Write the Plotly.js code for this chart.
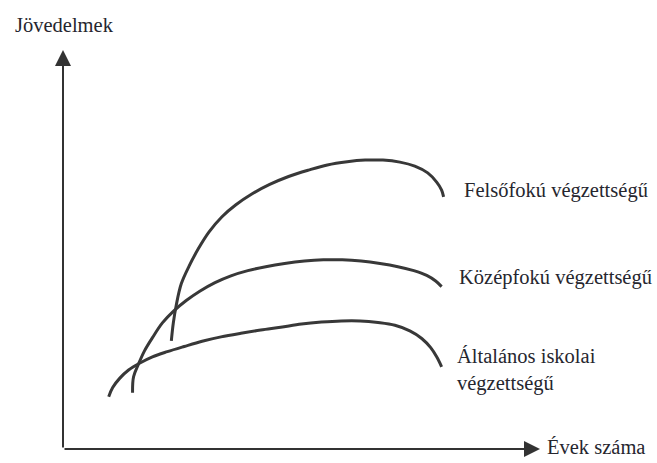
<!DOCTYPE html>
<html>
<head>
<meta charset="utf-8">
<script src="https://cdn.plot.ly/plotly-3.0.1.min.js"></script>
<style>
  html, body { margin: 0; padding: 0; background: #fff; }
  #chart { width: 657px; height: 463px; }
</style>
</head>
<body>
<div id="chart"></div>
<script>
// Életkereset-görbék végzettség szerint (kézzel)
// x: évek száma, y: jövedelem (tetszőleges egység)
const felsoX = [10.9, 11.1, 11.4, 11.9, 12.7, 13.6, 14.7, 16.0, 17.4, 19.0, 20.8, 22.7, 24.7, 26.6, 28.6, 30.4, 32.2, 33.9, 35.4, 36.7, 37.6, 38.1, 38.3];
const felsoY = [27.1, 31.6, 36.1, 41.4, 45.9, 50.1, 54.4, 58.2, 61.2, 63.9, 66.3, 68.3, 69.9, 71.2, 72.0, 72.4, 72.4, 71.9, 70.9, 69.2, 66.9, 64.9, 63.2];

const kozepX = [7.0, 7.1, 7.6, 8.2, 9.0, 10.0, 11.1, 12.4, 13.8, 15.3, 16.9, 18.6, 20.4, 22.3, 24.3, 26.2, 28.1, 30.0, 31.9, 33.7, 35.3, 36.6, 37.5, 38.1];
const kozepY = [14.1, 18.1, 21.3, 24.6, 27.9, 31.6, 34.5, 37.2, 39.6, 41.7, 43.4, 44.7, 45.7, 46.5, 47.1, 47.4, 47.4, 47.1, 46.5, 45.7, 44.7, 43.5, 42.1, 40.7];

const altalX = [4.6, 5.0, 5.7, 6.6, 7.7, 9.0, 10.5, 12.2, 14.0, 15.9, 17.9, 19.9, 21.9, 24.0, 26.0, 28.0, 29.9, 31.7, 33.4, 34.9, 36.1, 37.0, 37.6, 38.1];
const altalY = [13.1, 15.4, 17.7, 19.8, 21.5, 23.1, 24.4, 25.7, 27.0, 28.1, 29.0, 29.8, 30.5, 31.3, 31.8, 32.1, 32.1, 31.7, 31.0, 29.6, 27.7, 25.4, 23.1, 20.6];

const seriesNames = ['Felsőfokú végzettségű', 'Középfokú végzettségű', 'Általános iskolai<br>végzettségű'];

const lineColor = '#383838';
const textColor = '#26262e';
const serif = 'Liberation Serif, Times New Roman, serif';

function curve(x, y, name) {
    return {
        x: x,
        y: y,
        name: name,
        mode: 'lines',
        type: 'scatter',
        line: { color: lineColor, width: 3, shape: 'spline', smoothing: 1 },
        hoverinfo: 'skip'
    };
}

const traces = [
    curve(felsoX, felsoY, seriesNames[0]),
    curve(kozepX, kozepY, seriesNames[1]),
    curve(altalX, altalY, seriesNames[2])
];

// görbe végéhez tartozó feliratok
const labelAt = [
    { x: 40.2, y: 64.9, text: seriesNames[0] },
    { x: 39.6, y: 42.9, text: seriesNames[1] },
    { x: 39.4, y: 19.9, text: seriesNames[2] }
];

const annotations = labelAt.map(function (l) {
    return {
        x: l.x, y: l.y, xref: 'x', yref: 'y',
        text: l.text, showarrow: false,
        xanchor: 'left', yanchor: 'middle', align: 'left',
        font: { family: serif, size: 20.5, color: textColor }
    };
});

// tengelyek nyíllal
annotations.push({
    x: 0, y: 100, ax: 0, ay: 0, xref: 'x', yref: 'y', axref: 'x', ayref: 'y',
    text: '', showarrow: true, arrowhead: 2, arrowsize: 1.6, arrowwidth: 2, arrowcolor: '#333'
});
annotations.push({
    x: 48, y: 0, ax: 0, ay: 0, xref: 'x', yref: 'y', axref: 'x', ayref: 'y',
    text: '', showarrow: true, arrowhead: 2, arrowsize: 1.6, arrowwidth: 2, arrowcolor: '#333'
});

// tengelyfeliratok
annotations.push({
    x: -0.105, y: 1.063, xref: 'paper', yref: 'paper',
    text: 'Jövedelmek', showarrow: false, xanchor: 'left', yanchor: 'middle',
    font: { family: serif, size: 20.5, color: textColor }
});
annotations.push({
    x: 1.01, y: 0.005, xref: 'paper', yref: 'paper',
    text: 'Évek száma', showarrow: false, xanchor: 'left', yanchor: 'middle',
    font: { family: serif, size: 20.5, color: textColor }
});

const layout = {
    width: 657,
    height: 463,
    margin: { l: 63, r: 117, t: 50, b: 14 },
    paper_bgcolor: '#ffffff',
    plot_bgcolor: '#ffffff',
    showlegend: false,
    xaxis: {
        range: [0, 48], showgrid: false, zeroline: false,
        showticklabels: false, ticks: '', showline: false, fixedrange: true
    },
    yaxis: {
        range: [0, 100], showgrid: false, zeroline: false,
        showticklabels: false, ticks: '', showline: false, fixedrange: true
    },
    annotations: annotations
};

Plotly.newPlot('chart', traces, layout, { displayModeBar: false, staticPlot: true });
</script>
</body>
</html>
